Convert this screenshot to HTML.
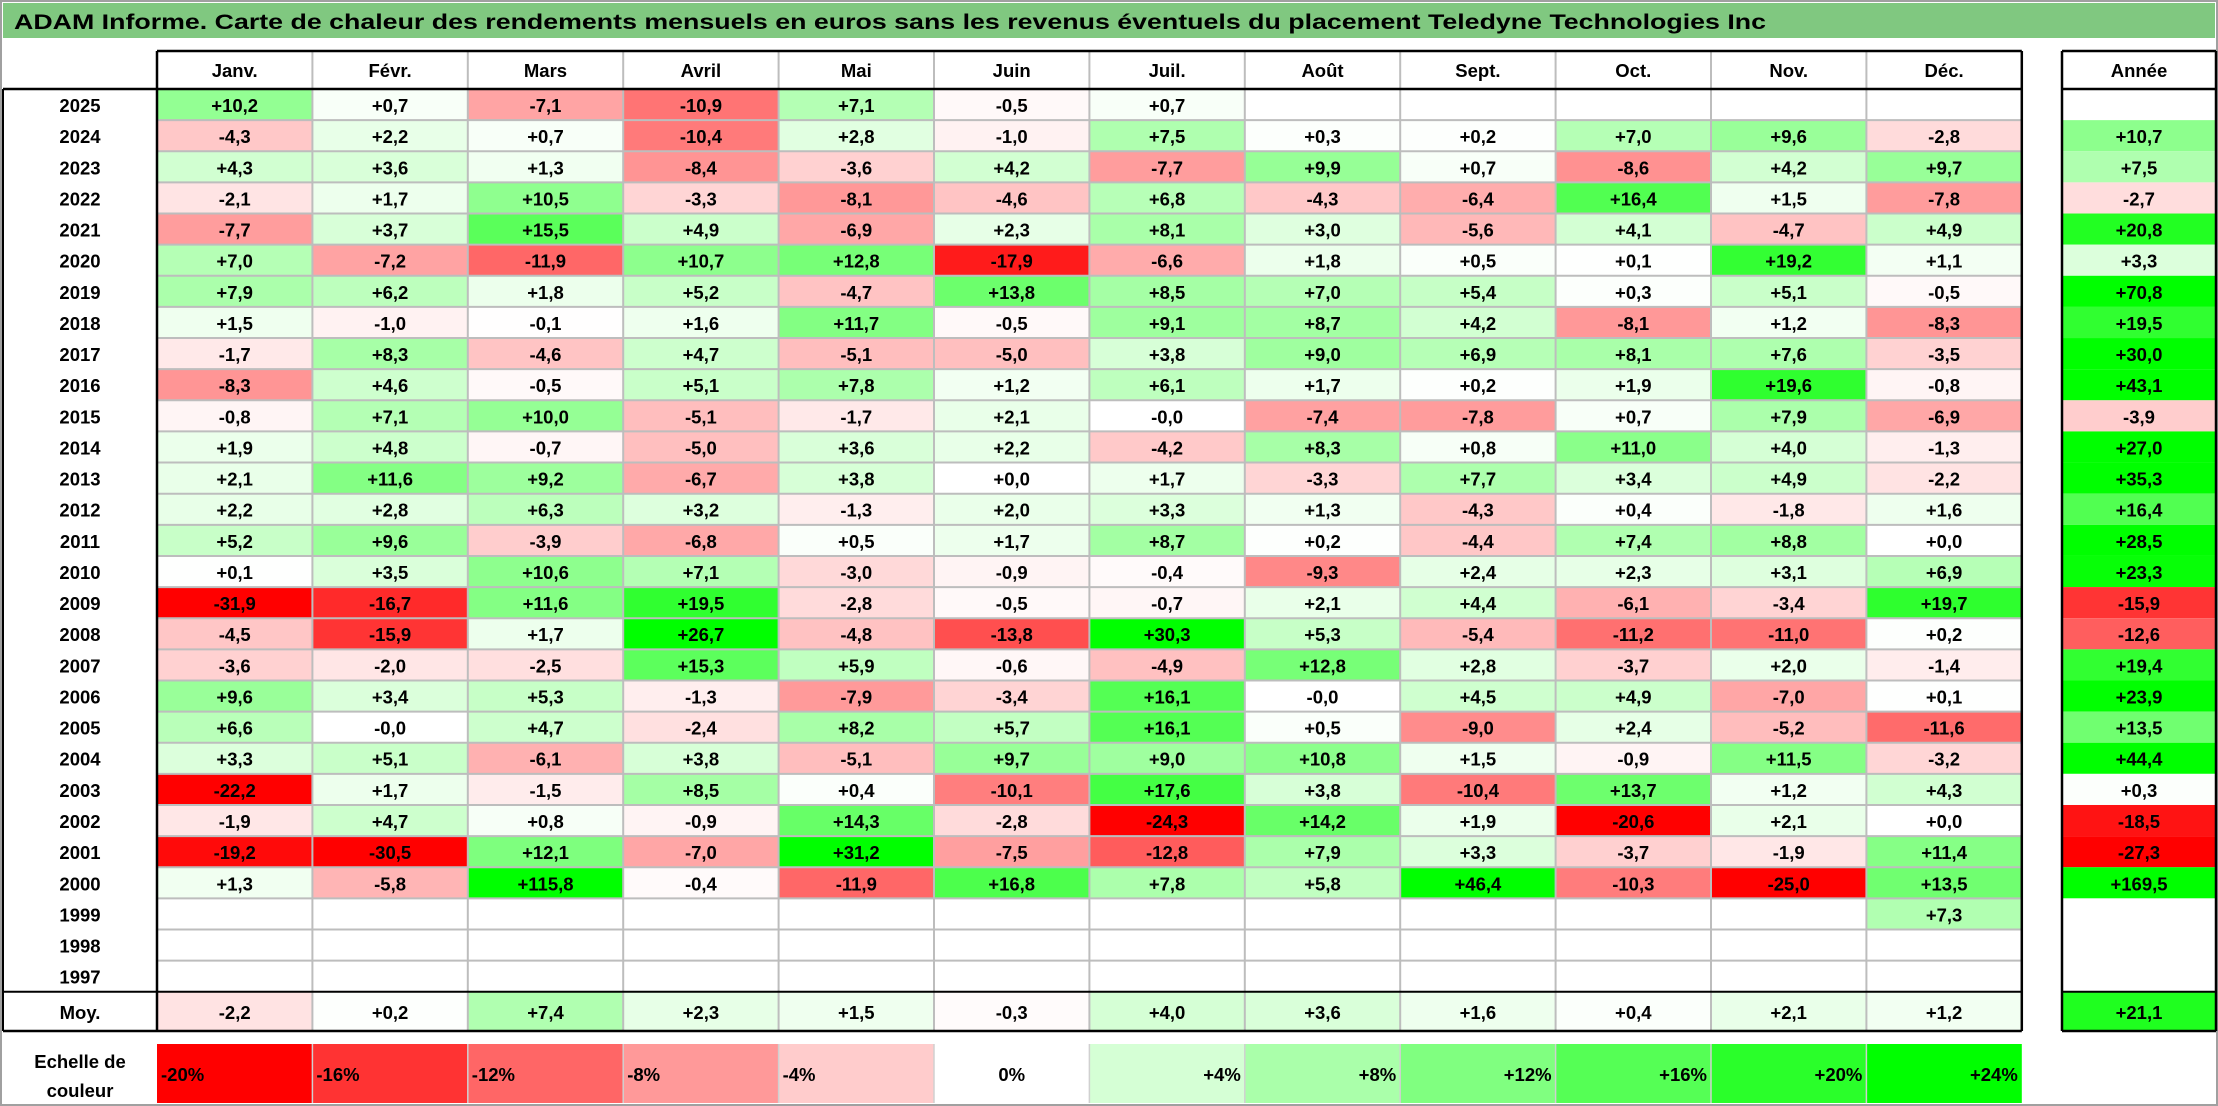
<!DOCTYPE html>
<html><head><meta charset="utf-8">
<style>
html,body{margin:0;padding:0;background:#fff;}
svg{display:block;font-family:"Liberation Sans",Arial,sans-serif;font-weight:bold;}
</style></head>
<body>
<svg id="chart" width="2218" height="1106" viewBox="0 0 2218 1106" xmlns="http://www.w3.org/2000/svg">
<rect x="0" y="0" width="2218" height="1106" fill="#fff"/>
<rect x="1" y="1" width="2216" height="1104" fill="none" stroke="#a0a0a0" stroke-width="2"/>
<rect x="3" y="3" width="2212" height="35" fill="#80c880"/>
<text x="14" y="29" font-size="21" textLength="1752" lengthAdjust="spacingAndGlyphs" fill="#000">ADAM Informe. Carte de chaleur des rendements mensuels en euros sans les revenus éventuels du placement Teledyne Technologies Inc</text>
<g id="cells"></g>
<g id="lines"></g>
</svg>
<script>
const months = ["Janv.","Févr.","Mars","Avril","Mai","Juin","Juil.","Août","Sept.","Oct.","Nov.","Déc."];
const years = ["2025","2024","2023","2022","2021","2020","2019","2018","2017","2016","2015","2014","2013","2012","2011","2010","2009","2008","2007","2006","2005","2004","2003","2002","2001","2000","1999","1998","1997"];
const N = null;
const monthly = [
[10.2,0.7,-7.1,-10.9,7.1,-0.5,0.7,N,N,N,N,N],
[-4.3,2.2,0.7,-10.4,2.8,-1.0,7.5,0.3,0.2,7.0,9.6,-2.8],
[4.3,3.6,1.3,-8.4,-3.6,4.2,-7.7,9.9,0.7,-8.6,4.2,9.7],
[-2.1,1.7,10.5,-3.3,-8.1,-4.6,6.8,-4.3,-6.4,16.4,1.5,-7.8],
[-7.7,3.7,15.5,4.9,-6.9,2.3,8.1,3.0,-5.6,4.1,-4.7,4.9],
[7.0,-7.2,-11.9,10.7,12.8,-17.9,-6.6,1.8,0.5,0.1,19.2,1.1],
[7.9,6.2,1.8,5.2,-4.7,13.8,8.5,7.0,5.4,0.3,5.1,-0.5],
[1.5,-1.0,-0.1,1.6,11.7,-0.5,9.1,8.7,4.2,-8.1,1.2,-8.3],
[-1.7,8.3,-4.6,4.7,-5.1,-5.0,3.8,9.0,6.9,8.1,7.6,-3.5],
[-8.3,4.6,-0.5,5.1,7.8,1.2,6.1,1.7,0.2,1.9,19.6,-0.8],
[-0.8,7.1,10.0,-5.1,-1.7,2.1,-0.0,-7.4,-7.8,0.7,7.9,-6.9],
[1.9,4.8,-0.7,-5.0,3.6,2.2,-4.2,8.3,0.8,11.0,4.0,-1.3],
[2.1,11.6,9.2,-6.7,3.8,0.0,1.7,-3.3,7.7,3.4,4.9,-2.2],
[2.2,2.8,6.3,3.2,-1.3,2.0,3.3,1.3,-4.3,0.4,-1.8,1.6],
[5.2,9.6,-3.9,-6.8,0.5,1.7,8.7,0.2,-4.4,7.4,8.8,0.0],
[0.1,3.5,10.6,7.1,-3.0,-0.9,-0.4,-9.3,2.4,2.3,3.1,6.9],
[-31.9,-16.7,11.6,19.5,-2.8,-0.5,-0.7,2.1,4.4,-6.1,-3.4,19.7],
[-4.5,-15.9,1.7,26.7,-4.8,-13.8,30.3,5.3,-5.4,-11.2,-11.0,0.2],
[-3.6,-2.0,-2.5,15.3,5.9,-0.6,-4.9,12.8,2.8,-3.7,2.0,-1.4],
[9.6,3.4,5.3,-1.3,-7.9,-3.4,16.1,-0.0,4.5,4.9,-7.0,0.1],
[6.6,-0.0,4.7,-2.4,8.2,5.7,16.1,0.5,-9.0,2.4,-5.2,-11.6],
[3.3,5.1,-6.1,3.8,-5.1,9.7,9.0,10.8,1.5,-0.9,11.5,-3.2],
[-22.2,1.7,-1.5,8.5,0.4,-10.1,17.6,3.8,-10.4,13.7,1.2,4.3],
[-1.9,4.7,0.8,-0.9,14.3,-2.8,-24.3,14.2,1.9,-20.6,2.1,0.0],
[-19.2,-30.5,12.1,-7.0,31.2,-7.5,-12.8,7.9,3.3,-3.7,-1.9,11.4],
[1.3,-5.8,115.8,-0.4,-11.9,16.8,7.8,5.8,46.4,-10.3,-25.0,13.5],
[N,N,N,N,N,N,N,N,N,N,N,7.3],
[N,N,N,N,N,N,N,N,N,N,N,N],
[N,N,N,N,N,N,N,N,N,N,N,N]
];
const annual = [N,10.7,7.5,-2.7,20.8,3.3,70.8,19.5,30.0,43.1,-3.9,27.0,35.3,16.4,28.5,23.3,-15.9,-12.6,19.4,23.9,13.5,44.4,0.3,-18.5,-27.3,169.5,N,N,N];
const averages = [-2.2,0.2,7.4,2.3,1.5,-0.3,4.0,3.6,1.6,0.4,2.1,1.2];
const averageYear = 21.1;
const scaleValues = [-20,-16,-12,-8,-4,0,4,8,12,16,20,24];
const scaleLabels = ["-20%","-16%","-12%","-8%","-4%","0%","+4%","+8%","+12%","+16%","+20%","+24%"];

const NS = "http://www.w3.org/2000/svg";
const X0 = 157, CW = 155.4, HY0 = 51, HY1 = 89, RH = 31.13;
const AX0 = 2062, AX1 = 2216;
const colX = i => X0 + i*CW;
const rowY = r => HY1 + r*RH;
const MOY_Y0 = rowY(years.length), MOY_Y1 = 1031;
const SC_Y0 = 1044, SC_Y1 = 1103;

function color(v){
  if(v===null) return "#ffffff";
  if(v<0){const t=Math.min(1,-v/20);const g=Math.round(255*(1-t));return `rgb(255,${g},${g})`;}
  const t=Math.min(1,v/24);const r=Math.round(255*(1-t));return `rgb(${r},255,${r})`;
}
function fmt(v){
  const neg = v<0 || Object.is(v,-0);
  return (neg?"-":"+")+Math.abs(v).toFixed(1).replace(".",",");
}
const cells=document.getElementById("cells"), lines=document.getElementById("lines");
function rect(p,x,y,w,h,fill,name){
  const e=document.createElementNS(NS,"rect");
  e.setAttribute("x",x);e.setAttribute("y",y);e.setAttribute("width",w);e.setAttribute("height",h);e.setAttribute("fill",fill);
  
  
  p.appendChild(e);return e;
}
function text(p,x,y,s,name,anchor,size){
  const e=document.createElementNS(NS,"text");
  e.setAttribute("x",x);e.setAttribute("y",y);e.setAttribute("font-size",size||18.5);
  e.setAttribute("text-anchor",anchor||"middle");e.setAttribute("fill","#000");
  e.textContent=s;
  
  
  p.appendChild(e);return e;
}
function line(x1,y1,x2,y2,stroke,w,name){
  const e=document.createElementNS(NS,"line");
  e.setAttribute("x1",x1);e.setAttribute("y1",y1);e.setAttribute("x2",x2);e.setAttribute("y2",y2);
  e.setAttribute("stroke",stroke);e.setAttribute("stroke-width",w);
  
  
  lines.appendChild(e);
}
// headers
months.forEach((m,i)=>text(cells,colX(i)+CW/2,HY0+26,m,"month-header"));
text(cells,(AX0+AX1)/2,HY0+26,"Année","year-total-header");
// rows
years.forEach((y,r)=>{
  const yy=rowY(r);
  text(cells,80,yy+23,y,"year-label");
  monthly[r].forEach((v,i)=>{
    rect(cells,colX(i),yy,CW,RH,color(v),"heatmap-cell");
    if(v!==null) text(cells,colX(i)+CW/2,yy+23,fmt(v),"cell-value");
  });
  const a=annual[r];
  rect(cells,AX0,yy,AX1-AX0,RH,color(a),"annual-cell");
  if(a!==null) text(cells,(AX0+AX1)/2,yy+23,fmt(a),"annual-value");
});
// averages
text(cells,80,MOY_Y0+27,"Moy.","average-label");
averages.forEach((v,i)=>{
  rect(cells,colX(i),MOY_Y0,CW,MOY_Y1-MOY_Y0,color(v),"average-cell");
  text(cells,colX(i)+CW/2,MOY_Y0+27,fmt(v),"average-value");
});
rect(cells,AX0,MOY_Y0,AX1-AX0,MOY_Y1-MOY_Y0,color(averageYear),"average-annual-cell");
text(cells,(AX0+AX1)/2,MOY_Y0+27,fmt(averageYear),"average-annual-value");
// scale
text(cells,80,SC_Y0+24,"Echelle de","scale-label");
text(cells,80,SC_Y0+53,"couleur","scale-label");
scaleValues.forEach((v,i)=>{
  rect(cells,colX(i),SC_Y0,CW,SC_Y1-SC_Y0,color(v),"scale-cell");
  const anchor = v<0?"start":(v===0?"middle":"end");
  const x = v<0?colX(i)+4:(v===0?colX(i)+CW/2:colX(i)+CW-4);
  text(cells,x,SC_Y0+37,scaleLabels[i],"scale-value",anchor);
});
// grid lines
const G="#bdbdbd";
for(let i=1;i<12;i++){
  line(colX(i),HY0,colX(i),MOY_Y1,G,2,"grid-vertical");
  line(colX(i),SC_Y0,colX(i),SC_Y1,"#d0d0d0",1.5,"scale-separator");
}
for(let r=1;r<years.length;r++) line(X0,rowY(r),colX(12),rowY(r),G,2,"grid-horizontal");
// black borders
const B="#000";
line(X0,HY0,colX(12),HY0,B,2.5,"border-top");
line(3,HY1,colX(12),HY1,B,2.5,"border-header-bottom");
line(3,MOY_Y0,colX(12),MOY_Y0,B,2,"border-average-top");
line(3,MOY_Y1,colX(12),MOY_Y1,B,2.5,"border-bottom");
line(X0,HY0,X0,MOY_Y1,B,2.5,"border-year-column");
line(colX(12),HY0,colX(12),MOY_Y1,B,2.5,"border-right");
line(3,HY1,3,MOY_Y1,B,2,"border-left");
line(AX0,HY0,AX1,HY0,B,2.5,"annual-border-top");
line(AX0,HY1,AX1,HY1,B,2.5,"annual-border-header");
line(AX0,MOY_Y0,AX1,MOY_Y0,B,2,"annual-border-average");
line(AX0,MOY_Y1,AX1,MOY_Y1,B,2.5,"annual-border-bottom");
line(AX0,HY0,AX0,MOY_Y1,B,2.5,"annual-border-left");
line(AX1,HY0,AX1,MOY_Y1,B,2.5,"annual-border-right");
</script>
</body></html>
